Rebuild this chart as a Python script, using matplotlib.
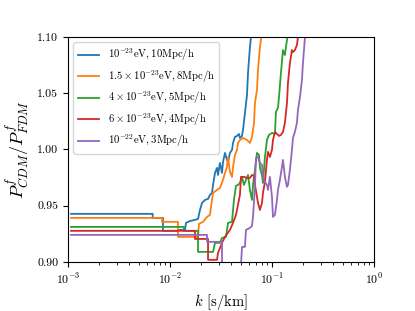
import numpy as np
import matplotlib
matplotlib.use('Agg')
import matplotlib.pyplot as plt

plt.rcParams['mathtext.fontset'] = 'cm'
plt.rcParams['font.family'] = 'serif'
plt.rcParams['font.serif'] = ['cmr10']
plt.rcParams['axes.formatter.use_mathtext'] = True

# log10(k [s/km]) and P_CDM/P_FDM for each FDM mass / box
logk_1 = [-2.971, -2.170, -2.170, -2.069, -2.069, -1.922, -1.922, -1.853, -1.843, -1.804,
          -1.755, -1.725, -1.706, -1.686, -1.657, -1.627, -1.608, -1.588, -1.578, -1.559,
          -1.539, -1.529, -1.510, -1.490, -1.480, -1.461, -1.441, -1.431, -1.412, -1.392,
          -1.382, -1.363, -1.343, -1.324, -1.314, -1.294, -1.284, -1.265, -1.245, -1.235,
          -1.216, -1.206, -1.196]
ratio_1 = [0.9427, 0.9427, 0.9391, 0.9391, 0.9276, 0.9276, 0.9284, 0.9284, 0.9347, 0.9364,
           0.9373, 0.9382, 0.9462, 0.9524, 0.9551, 0.9560, 0.9596, 0.9613, 0.9684, 0.9791,
           0.9836, 0.9773, 0.9880, 0.9791, 0.9889, 0.9969, 0.9907, 0.9889, 0.9969, 0.9996,
           1.0058, 1.0111, 1.0120, 1.0138, 1.0102, 1.0120, 1.0173, 1.0324, 1.0484, 1.0680,
           1.0911, 1.1000, 1.1107]

logk_2 = [-2.971, -2.078, -2.078, -1.922, -1.922, -1.725, -1.716, -1.676, -1.637, -1.608,
          -1.598, -1.578, -1.539, -1.510, -1.480, -1.461, -1.441, -1.431, -1.412, -1.392,
          -1.382, -1.363, -1.343, -1.333, -1.314, -1.284, -1.245, -1.216, -1.196, -1.176,
          -1.167, -1.147, -1.137, -1.118, -1.103, -1.093]
ratio_2 = [0.9391, 0.9391, 0.9356, 0.9356, 0.9222, 0.9222, 0.9338, 0.9356, 0.9400, 0.9418,
           0.9489, 0.9613, 0.9640, 0.9658, 0.9729, 0.9791, 0.9844, 0.9933, 0.9800, 0.9756,
           0.9844, 0.9951, 0.9996, 1.0058, 1.0084, 1.0102, 1.0084, 1.0058, 1.0111, 1.0236,
           1.0413, 1.0529, 1.0707, 1.0911, 1.1000, 1.1107]

logk_3 = [-2.971, -1.863, -1.863, -1.725, -1.725, -1.578, -1.559, -1.510, -1.490, -1.451,
          -1.431, -1.392, -1.373, -1.353, -1.333, -1.314, -1.294, -1.275, -1.255, -1.235,
          -1.216, -1.196, -1.186, -1.167, -1.147, -1.127, -1.118, -1.098, -1.088, -1.069,
          -1.049, -1.029, -1.000, -0.971, -0.961, -0.941, -0.931, -0.912, -0.892, -0.882,
          -0.873, -0.863, -0.848, -0.838]
ratio_3 = [0.9311, 0.9311, 0.9276, 0.9276, 0.9089, 0.9089, 0.9169, 0.9169, 0.9213, 0.9222,
           0.9347, 0.9356, 0.9551, 0.9676, 0.9684, 0.9702, 0.9756, 0.9684, 0.9729, 0.9773,
           0.9640, 0.9551, 0.9684, 0.9818, 0.9969, 0.9951, 0.9836, 0.9773, 0.9702, 0.9933,
           1.0084, 1.0129, 1.0147, 1.0138, 1.0333, 1.0369, 1.0467, 1.0680, 1.0884, 1.0858,
           1.0840, 1.0911, 1.1000, 1.1107]

logk_4 = [-2.971, -1.755, -1.755, -1.627, -1.627, -1.539, -1.529, -1.490, -1.461, -1.412,
          -1.382, -1.353, -1.333, -1.314, -1.304, -1.275, -1.245, -1.216, -1.196, -1.176,
          -1.167, -1.147, -1.137, -1.118, -1.098, -1.088, -1.069, -1.049, -1.039, -1.020,
          -1.000, -0.990, -0.971, -0.951, -0.931, -0.912, -0.892, -0.873, -0.853, -0.843,
          -0.824, -0.804, -0.794, -0.775, -0.755, -0.745, -0.735]
ratio_4 = [0.9276, 0.9276, 0.9204, 0.9204, 0.9018, 0.9018, 0.9080, 0.9169, 0.9222, 0.9284,
           0.9347, 0.9418, 0.9507, 0.9596, 0.9756, 0.9756, 0.9747, 0.9747, 0.9773, 0.9764,
           0.9684, 0.9578, 0.9524, 0.9462, 0.9524, 0.9613, 0.9711, 0.9907, 0.9978, 0.9933,
           0.9996, 1.0084, 1.0156, 1.0138, 1.0120, 1.0129, 1.0156, 1.0236, 1.0413, 1.0591,
           1.0769, 1.0884, 1.0867, 1.0884, 1.0929, 1.1000, 1.1107]

logk_5 = [-2.971, -1.637, -1.637, -1.490, -1.490, -1.304, -1.294, -1.265, -1.255, -1.216,
          -1.196, -1.186, -1.167, -1.157, -1.137, -1.118, -1.098, -1.088, -1.069, -1.049,
          -1.039, -1.020, -1.000, -0.990, -0.971, -0.951, -0.941, -0.922, -0.902, -0.892,
          -0.873, -0.853, -0.843, -0.824, -0.804, -0.794, -0.775, -0.755, -0.745, -0.725,
          -0.706, -0.696, -0.686, -0.676, -0.667]
ratio_5 = [0.9240, 0.9240, 0.9178, 0.9178, 0.8964, 0.8964, 0.9133, 0.9133, 0.9284, 0.9302,
           0.9320, 0.9400, 0.9667, 0.9924, 0.9933, 0.9880, 0.9862, 0.9756, 0.9711, 0.9684,
           0.9640, 0.9756, 0.9578, 0.9400, 0.9418, 0.9551, 0.9640, 0.9729, 0.9844, 0.9907,
           0.9756, 0.9667, 0.9684, 0.9818, 0.9996, 1.0102, 1.0156, 1.0236, 1.0351, 1.0467,
           1.0618, 1.0769, 1.0884, 1.1000, 1.1107]

labels = [r'$10^{-23}{\rm eV}, 10{\rm Mpc/h}$',
          r'$1.5\times10^{-23}{\rm eV}, 8{\rm Mpc/h}$',
          r'$4\times10^{-23}{\rm eV}, 5{\rm Mpc/h}$',
          r'$6\times10^{-23}{\rm eV}, 4{\rm Mpc/h}$',
          r'$10^{-22}{\rm eV}, 3{\rm Mpc/h}$']

series = [(logk_1, ratio_1), (logk_2, ratio_2), (logk_3, ratio_3),
          (logk_4, ratio_4), (logk_5, ratio_5)]

fig = plt.figure(figsize=(4.15, 3.11), dpi=100)
ax = fig.add_axes([0.164, 0.158, 0.737, 0.723])

for (lk, r), lab in zip(series, labels):
    ax.plot(10**np.array(lk), r, lw=1.3, label=lab)

ax.set_xscale('log')
ax.set_xlim(1e-3, 1)
ax.set_ylim(0.90, 1.10)
ax.set_yticks([0.90, 0.95, 1.00, 1.05, 1.10])
ax.set_yticklabels(['0.90', '0.95', '1.00', '1.05', '1.10'])
ax.tick_params(labelsize=8.5)
ax.set_xlabel(r'$k$ [s/km]', fontsize=10.5)
ax.set_ylabel(r'$P^f_{CDM}/P^f_{FDM}$', fontsize=13)
ax.legend(loc='upper left', fontsize=7.7, labelspacing=0.45)

fig.savefig('out.png', dpi=100)
